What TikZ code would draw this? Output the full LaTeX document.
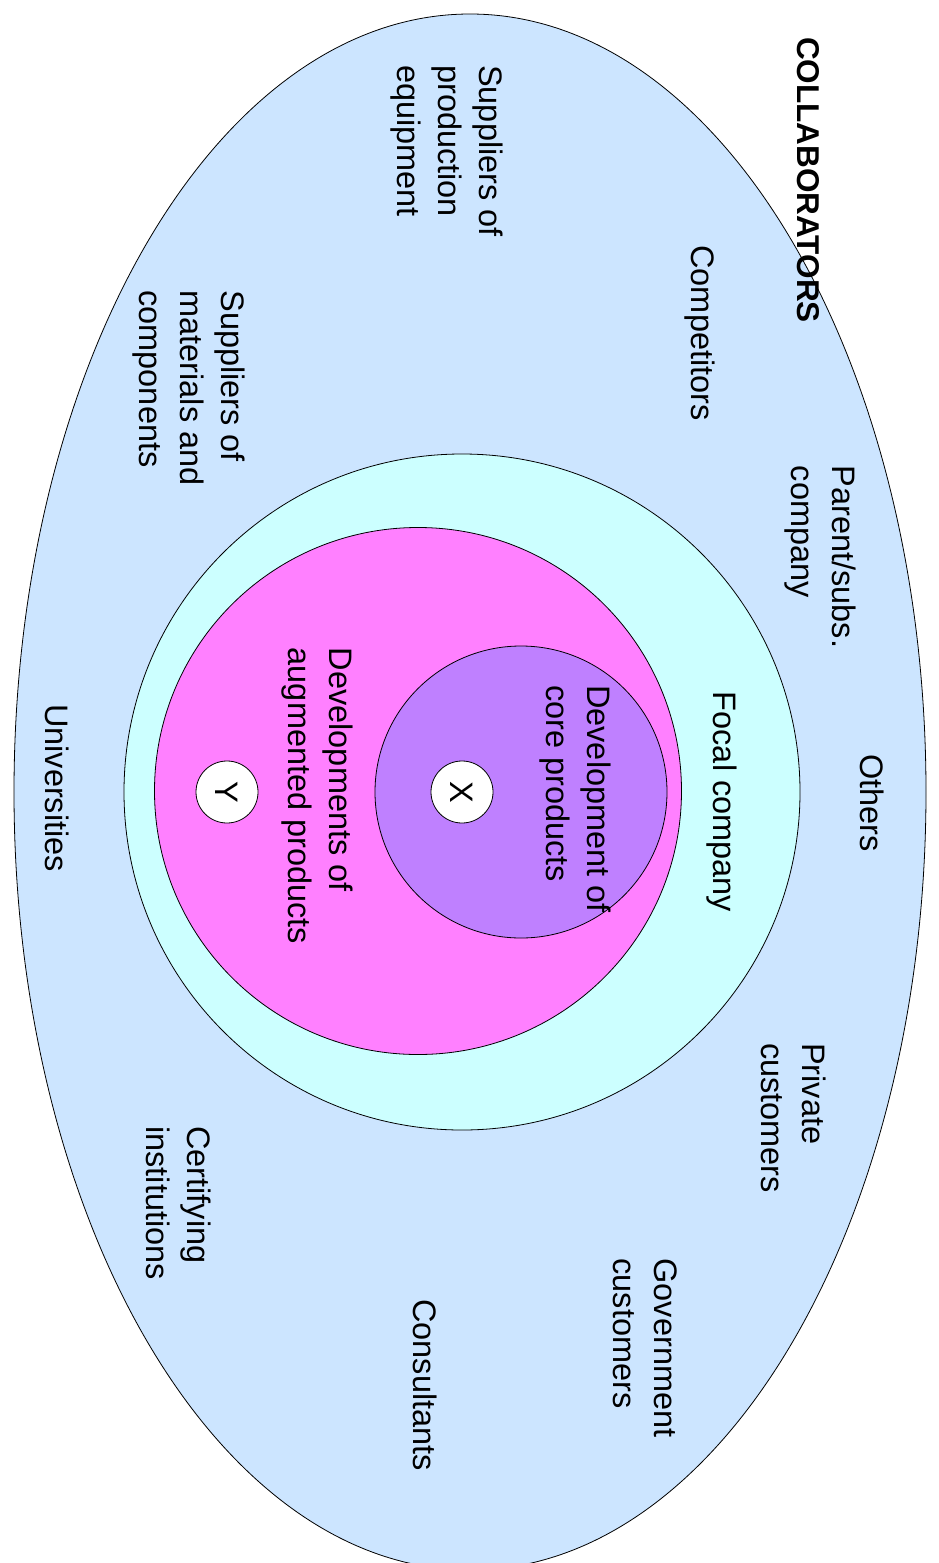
\documentclass[tikz,border=0pt]{standalone}
\usepackage{fontspec}
\setmainfont{Liberation Sans}
\usetikzlibrary{shapes.geometric}
\definecolor{outerblue}{HTML}{CCE5FF}
\definecolor{focalcyan}{HTML}{CCFFFF}
\definecolor{augpink}{HTML}{FF80FF}
\definecolor{corepurple}{HTML}{BF80FF}
\tikzset{
  lbl/.style={rotate=-90, align=left, inner sep=0pt, font=\fontsize{32.5}{41}\selectfont},
  ring/.style={circle, draw=black, line width=0.8pt, inner sep=0pt},
  markcircle/.style={ring, fill=white, minimum size=62pt, rotate=-90, font=\fontsize{32.5}{41}\selectfont}
}
\begin{document}
\begin{tikzpicture}[x=1pt,y=-1pt]
\useasboundingbox (0,0) rectangle (938,1563);
\node[ellipse, draw=black, line width=0.8pt, fill=outerblue, inner sep=0pt,
      minimum width=912pt, minimum height=1556pt] (collab) at (470,792) {};
\node[ring, fill=focalcyan, minimum size=676pt] (focal) at (462,792) {};
\node[ring, fill=augpink, minimum size=527pt] (aug) at (418,791) {};
\node[ring, fill=corepurple, minimum size=292pt] (core) at (521,792) {};
\node[markcircle] (x) at (462,792) {X};
\node[markcircle] (y) at (227,792) {Y};

\node[lbl, font=\fontsize{31.5}{41}\selectfont\bfseries] (title) at (808,180) {COLLABORATORS};
\node[lbl] (supeq) at (447,151) {Suppliers of\\production\\equipment};
\node[lbl] (comp) at (700,333) {Competitors};
\node[lbl] (supmat) at (189,388) {Suppliers of\\materials and\\components};
\node[lbl] (parent) at (820,557) {Parent/subs.\\company};
\node[lbl] (others) at (872,803) {Others};
\node[lbl] (focallbl) at (722,802) {Focal company};
\node[lbl] (corelbl) at (575,799) {Development of\\core products};
\node[lbl] (auglbl) at (317,796) {Developments of\\augmented products};
\node[lbl] (univ) at (57,788) {Universities};
\node[lbl] (priv) at (794,1118) {Private\\customers};
\node[lbl] (gov) at (645,1348) {Government\\customers};
\node[lbl] (cert) at (179,1203) {Certifying\\institutions};
\node[lbl] (cons) at (425,1385) {Consultants};
\end{tikzpicture}
\end{document}
